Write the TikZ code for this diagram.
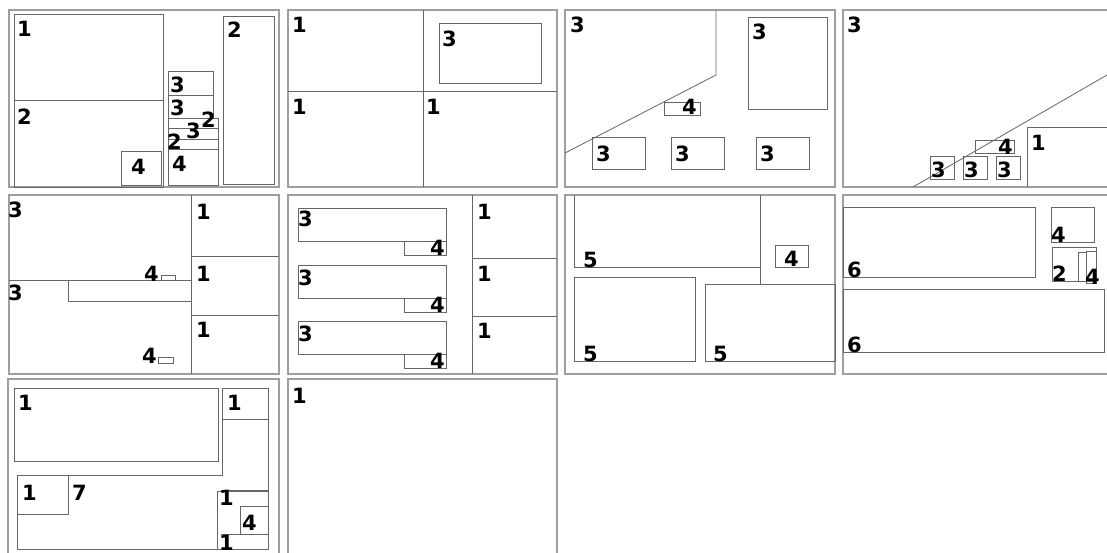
\documentclass[tikz,border=0pt]{standalone}
\usepackage{fontspec}
\usepackage{tikz}
\newfontfamily\partfont{DejaVu Sans}
\tikzset{
  sheet frame/.style={
    draw=gray!75, line width=1.3pt
  },
  cut line/.style={
    draw=black!60, line width=0.8pt
  },
  part label/.style={
    anchor=base west, inner sep=0pt, text=black,
    font=\partfont\bfseries\fontsize{21}{21}\selectfont
  }
}

\begin{document}
\begin{tikzpicture}[x=1pt, y=-1pt]
  \useasboundingbox (0,0) rectangle (1107,553);
  \fill[white] (0,0) rectangle (1107,553);

  % sheets
  \foreach \xa/\xb in {9/279, 288/557, 565/835, 843/1115} {
    \draw [sheet frame] (\xa,10) rectangle (\xb,187);
    \draw [sheet frame] (\xa,195) rectangle (\xb,374);
  }
  \draw [sheet frame] (8,379) rectangle (279,560);
  \draw [sheet frame] (288,379) rectangle (557,560);

  % sheet 1
  \draw [cut line] (14,14) rectangle (163,100);
  \draw [cut line] (14,100) rectangle (163,187);
  \draw [cut line] (121,151) rectangle (161,185);
  \draw [cut line] (168,71) rectangle (213,95);
  \draw [cut line] (168,95) rectangle (213,118);
  \draw [cut line] (168,118) rectangle (218,128);
  \draw [cut line] (168,128) rectangle (218,139);
  \draw [cut line] (168,139) rectangle (218,149);
  \draw [cut line] (168,149) rectangle (218,185);
  \draw [cut line] (223,16) rectangle (274,184);
  \node (s1a) [part label] at (17,37) {1};
  \node (s1b) [part label] at (17,125) {2};
  \node (s1c) [part label] at (131,175) {4};
  \node (s1d) [part label] at (170,93) {3};
  \node (s1e) [part label] at (170,116) {3};
  \node (s1f) [part label] at (201,128) {2};
  \node (s1g) [part label] at (186,139) {3};
  \node (s1h) [part label] at (167,150) {2};
  \node (s1i) [part label] at (172,172) {4};
  \node (s1j) [part label] at (227,38) {2};

  % sheet 2
  \draw [cut line] (423,10) -- (423,187);
  \draw [cut line] (288,91) -- (557,91);
  \draw [cut line] (439,23) rectangle (541,83);
  \node (s2a) [part label] at (292,33) {1};
  \node (s2b) [part label] at (442,47) {3};
  \node (s2c) [part label] at (292,115) {1};
  \node (s2d) [part label] at (426,115) {1};

  % sheet 3
  \draw [cut line] (716,10) -- (716,75) -- (565,153);
  \draw [cut line] (664,102) rectangle (700,115);
  \draw [cut line] (748,17) rectangle (827,109);
  \foreach \xa in {592,671,756}
    \draw [cut line] (\xa,137) rectangle ++(53,32);
  \node (s3a) [part label] at (570,33) {3};
  \node (s3b) [part label] at (752,40) {3};
  \node (s3c) [part label] at (682,115) {4};
  \node (s3d) [part label] at (596,162) {3};
  \node (s3e) [part label] at (675,162) {3};
  \node (s3f) [part label] at (760,162) {3};

  % sheet 4
  \draw [cut line] (913,187) -- (1120,67.5);
  \draw [cut line] (1027,187) -- (1027,127) -- (1115,127);
  \draw [cut line] (975,140) rectangle (1014,153);
  \foreach \xa in {930,963,996}
    \draw [cut line] (\xa,156) rectangle ++(24,23);
  \node (s4a) [part label] at (847,33) {3};
  \node (s4b) [part label] at (998,155) {4};
  \node (s4c) [part label] at (1031,151) {1};
  \node (s4d) [part label] at (931,178) {3};
  \node (s4e) [part label] at (964,178) {3};
  \node (s4f) [part label] at (997,178) {3};

  % sheet 5
  \draw [cut line] (191,195) -- (191,374);
  \draw [cut line] (191,256) -- (279,256);
  \draw [cut line] (191,315) -- (279,315);
  \draw [cut line] (9,280) -- (191,280);
  \draw [cut line] (68,280) -- (68,301) -- (191,301);
  \draw [cut line] (161,275) rectangle (175,280);
  \draw [cut line] (158,357) rectangle (173,363);
  \node (s5a) [part label] at (8,218) {3};
  \node (s5b) [part label] at (8,300) {3};
  \node (s5c) [part label] at (196,220) {1};
  \node (s5d) [part label] at (196,281) {1};
  \node (s5e) [part label] at (196,337) {1};
  \node (s5f) [part label] at (144,281) {4};
  \node (s5g) [part label] at (142,363) {4};

  % sheet 6
  \draw [cut line] (472,195) -- (472,374);
  \draw [cut line] (472,258) -- (557,258);
  \draw [cut line] (472,316) -- (557,316);
  \foreach \ya in {208,265,321} {
    \draw [cut line] (298,\ya) rectangle (446,\ya+33);
    \draw [cut line] (404,\ya+33) rectangle (446,\ya+47);
  }
  \node (s6a) [part label] at (298,227) {3};
  \node (s6b) [part label] at (298,285) {3};
  \node (s6c) [part label] at (298,341) {3};
  \node (s6d) [part label] at (430,255) {4};
  \node (s6e) [part label] at (430,312) {4};
  \node (s6f) [part label] at (430,368) {4};
  \node (s6g) [part label] at (477,219) {1};
  \node (s6h) [part label] at (477,281) {1};
  \node (s6i) [part label] at (477,338) {1};

  % sheet 7
  \draw [cut line] (574,195) -- (574,267) -- (760,267);
  \draw [cut line] (760,195) -- (760,284) -- (835,284);
  \draw [cut line] (705,284) rectangle (835,361);
  \draw [cut line] (574,277) rectangle (695,361);
  \draw [cut line] (775,245) rectangle (808,267);
  \node (s7a) [part label] at (583,267) {5};
  \node (s7b) [part label] at (583,361) {5};
  \node (s7c) [part label] at (713,361) {5};
  \node (s7d) [part label] at (784,266) {4};

  % sheet 8
  \draw [cut line] (843,207) rectangle (1035,277);
  \draw [cut line] (843,289) rectangle (1104,352);
  \draw [cut line] (1051,207) rectangle (1094,242);
  \draw [cut line] (1052,247) rectangle (1096,281);
  \draw [cut line] (1078,252) rectangle (1086,281);
  \draw [cut line] (1086,251) rectangle (1096,283);
  \node (s8a) [part label] at (847,277) {6};
  \node (s8b) [part label] at (847,352) {6};
  \node (s8c) [part label] at (1051,243) {4};
  \node (s8d) [part label] at (1052,281) {2};
  \node (s8e) [part label] at (1085,284) {4};

  % sheet 9
  \draw [cut line] (14,388) rectangle (218,461);
  \draw [cut line] (17,475) -- (222,475) -- (222,388) -- (268,388) -- (268,491);
  \draw [cut line] (222,419) -- (268,419);
  \draw [cut line] (17,475) -- (17,549) -- (218,549);
  \draw [cut line] (17,514) -- (68,514) -- (68,475);
  \draw [cut line] (217,491) rectangle (268,549);
  \draw [cut line, line width=1.3pt] (221,491) -- (268,491);
  \draw [cut line] (240,534) -- (240,506) -- (268,506);
  \draw [cut line] (221,534) -- (268,534);
  \node (s9a) [part label] at (18,410) {1};
  \node (s9b) [part label] at (227,410) {1};
  \node (s9c) [part label] at (22,500) {1};
  \node (s9d) [part label] at (72,500) {7};
  \node (s9e) [part label] at (219,505) {1};
  \node (s9f) [part label] at (242,530) {4};
  \node (s9g) [part label] at (219,550) {1};

  % sheet 10
  \node (s10a) [part label] at (292,403) {1};
\end{tikzpicture}
\end{document}
